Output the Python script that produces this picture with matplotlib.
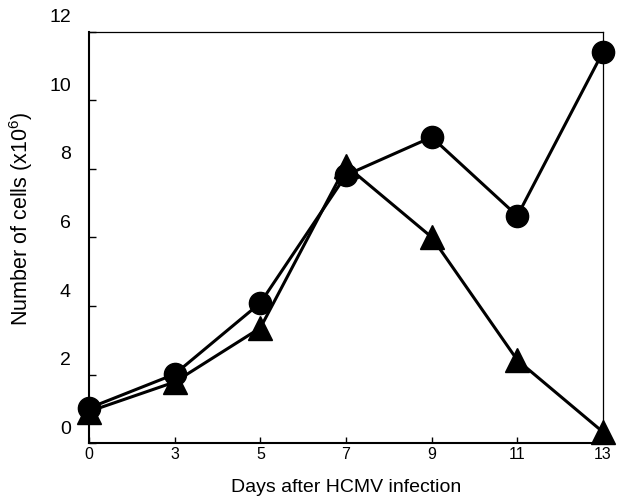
import matplotlib
matplotlib.use("Agg")
import matplotlib.pyplot as plt
import matplotlib.transforms as mtransforms

plt.rcParams['font.family'] = ['Liberation Sans', 'DejaVu Sans']
plt.rcParams['mathtext.fontset'] = 'custom'
plt.rcParams['mathtext.rm'] = 'Liberation Sans'
plt.rcParams['mathtext.it'] = 'Liberation Sans'

# Days are spaced evenly on the axis, as categories
days = ["0", "3", "5", "7", "9", "11", "13"]
circle_cells = [1.02, 2.01, 4.09, 7.82, 8.93, 6.63, 11.42]
triangle_cells = [0.92, 1.78, 3.36, 8.1, 6.01, 2.42, 0.32]
y_ticks = [0, 2, 4, 6, 8, 10, 12]

fig = plt.figure(figsize=(6.25, 4.99), dpi=100)
ax = fig.add_axes([0.1424, 0.1122, 0.8224, 0.8237])

pos = list(range(len(days)))
ax.plot(pos, triangle_cells, color='black', lw=2.2, marker='^', ms=17,
        clip_on=False, zorder=3)
ax.plot(pos, circle_cells, color='black', lw=2.2, marker='o', ms=16,
        clip_on=False, zorder=4)

ax.set_xlim(0, len(days) - 1)
ax.set_ylim(0, 12)
ax.set_xticks(pos)
ax.set_xticklabels(days, fontsize=11.5)
ax.set_yticks(y_ticks)
ax.set_yticklabels([str(v) for v in y_ticks], fontsize=14)

ax.tick_params(axis='x', direction='in', length=4, width=1, pad=3)
ax.tick_params(axis='y', direction='in', length=5, width=1, pad=13)

# labels sit a bit above their tick marks in the original
shift = mtransforms.ScaledTranslation(0, 16 / 100, fig.dpi_scale_trans)
for lab in ax.get_yticklabels():
    lab.set_transform(lab.get_transform() + shift)

for side in ['left', 'bottom']:
    ax.spines[side].set_linewidth(1.5)
for side in ['top', 'right']:
    ax.spines[side].set_linewidth(0.9)

ax.set_xlabel("Days after HCMV infection", fontsize=14, labelpad=12)
ax.set_ylabel("Number of cells (x10$^{6}$)", fontsize=15.5)
ax.yaxis.set_label_coords(-0.105, 0.545)

fig.savefig("out.png", dpi=100)
